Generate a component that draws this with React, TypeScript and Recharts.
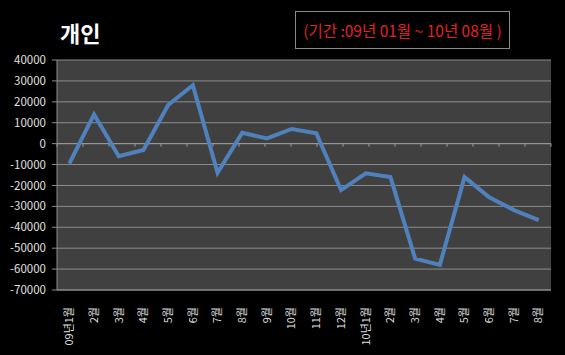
import React from 'react';
import { LineChart, Line, XAxis, YAxis, CartesianGrid, ReferenceLine } from 'recharts';

const months = ['09년1월', '2월', '3월', '4월', '5월', '6월', '7월', '8월', '9월', '10월', '11월', '12월', '10년1월', '2월', '3월', '4월', '5월', '6월', '7월', '8월'];
const individual = [-9500, 14000, -6000, -3000, 18500, 28000, -14000, 5200, 2500, 7000, 4900, -22200, -14200, -16000, -55000, -58000, -16000, -25700, -31800, -36600];
const yTicks = [40000, 30000, 20000, 10000, 0, -10000, -20000, -30000, -40000, -50000, -60000, -70000];
const title = '개인';
const period = '(기간 :09년 01월 ~ 10년 08월 )';

const data = months.map((m, i) => ({ idx: i, month: m, value: individual[i] }));
const boundaries = Array.from({ length: months.length + 1 }, (_, i) => i);

const FONT = '"Noto Sans CJK KR", "Noto Sans", sans-serif';

const MonthTick = (props: any) => {
  const { x, y, payload } = props;
  return (
    <text
      x={x}
      y={y}
      transform={`rotate(-90, ${x}, ${y})`}
      textAnchor="end"
      dy="0.35em"
      fill="#dcdcdc"
      fontSize={11}
      fontFamily={FONT}
    >
      {months[payload.index] ?? payload.value}
    </text>
  );
};

export default function App() {
  return (
    <div style={{ position: 'absolute', left: 0, top: 0, width: 565, height: 355, background: '#000', overflow: 'hidden' }}>
      <div style={{ position: 'absolute', left: 60, top: 14, color: '#fff', fontFamily: FONT, fontWeight: 700, fontSize: 22, lineHeight: '36px' }}>
        {title}
      </div>
      <div style={{ position: 'absolute', left: 295, top: 11, width: 215, height: 38, border: '1px solid #8a8a8a', boxSizing: 'border-box', color: '#e02222', fontFamily: FONT, fontSize: 15.5, display: 'flex', alignItems: 'center', justifyContent: 'center', whiteSpace: 'nowrap' }}>
        {period}
      </div>
      <div style={{ position: 'absolute', left: 0, top: 0 }}>
        <LineChart width={565} height={355} data={data} margin={{ top: 60, right: 14, bottom: 0, left: 0 }}>
          <CartesianGrid vertical={false} fill="#404040" stroke="#8c8c8c" strokeWidth={1} />
          <XAxis
            dataKey="idx"
            type="category"
            height={65}
            interval={0}
            padding={{ left: 12.35, right: 12.35 }}
            tick={<MonthTick />}
            tickLine={false}
            tickMargin={11}
            axisLine={false}
          />
          <XAxis xAxisId="grid" type="number" domain={[0, months.length]} hide />
          <YAxis
            width={57}
            domain={[-70000, 40000]}
            ticks={yTicks}
            interval={0}
            tick={{ fill: '#e0e0e0', fontSize: 11.5, fontFamily: FONT }}
            tickSize={5}
            tickMargin={6}
            tickLine={{ stroke: '#8c8c8c' }}
            axisLine={{ stroke: '#8c8c8c' }}
          />
          <ReferenceLine y={-70000} stroke="#8c8c8c" />
          <ReferenceLine y={0} stroke="#9a9a9a" />
          {boundaries.map((b) => (
            <ReferenceLine
              key={b}
              xAxisId="grid"
              segment={[{ x: b, y: 0 }, { x: b, y: -1500 }]}
              stroke="#9a9a9a"
            />
          ))}
          <Line
            type="linear"
            dataKey="value"
            stroke="#4f81bd"
            strokeWidth={4}
            dot={false}
            activeDot={false}
            isAnimationActive={false}
          />
        </LineChart>
      </div>
    </div>
  );
}
